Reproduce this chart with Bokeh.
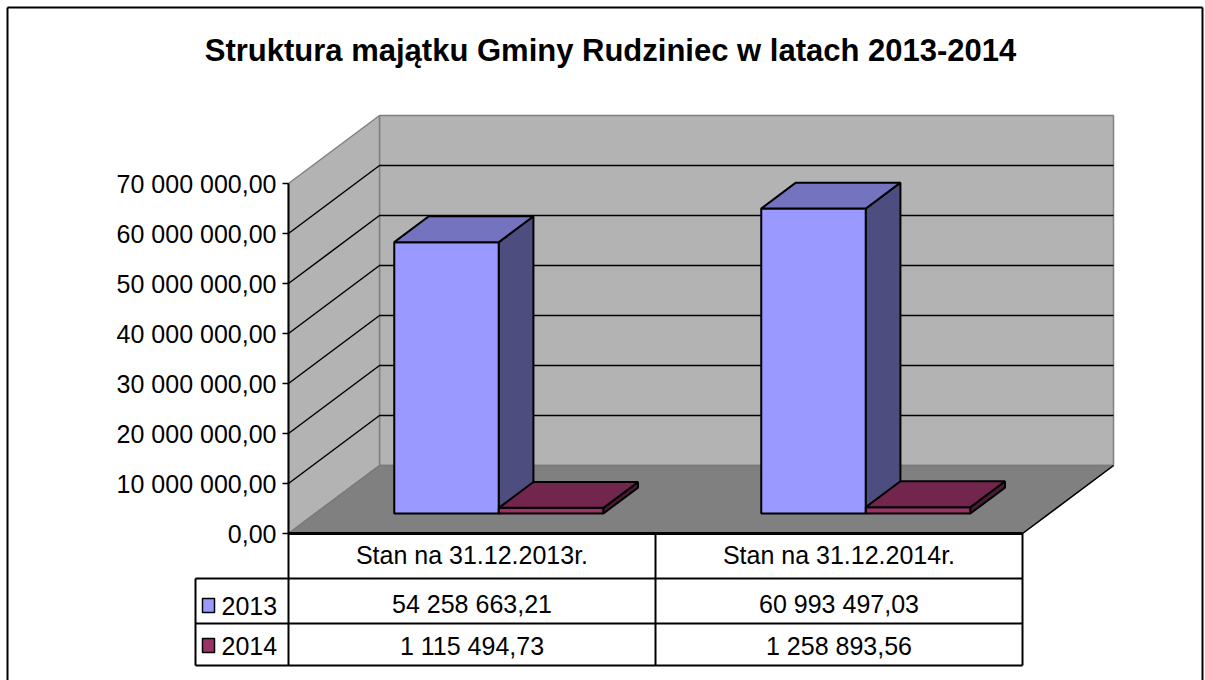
from bokeh.plotting import figure
from bokeh.models import Range1d, LinearAxis, FixedTicker
from bokeh.embed import file_html
from bokeh.resources import INLINE
from bokeh.core.properties import value

# ---------------- data ----------------
title_text = "Struktura majątku Gminy Rudziniec w latach 2013-2014"
categories = ["Stan na 31.12.2013r.", "Stan na 31.12.2014r."]
series_names = ["2013", "2014"]
values_2013 = [54258663.21, 60993497.03]
values_2014 = [1115494.73, 1258893.56]
y_ticks = [0, 10000000, 20000000, 30000000, 40000000, 50000000, 60000000, 70000000]

series_values = [values_2013, values_2014]
series_colors = [("#9999ff", "#7373bf", "#4d4d80"), ("#993366", "#73264d", "#4d1a33")]


def fmt(v):
    s = f"{v:,.2f}"
    return s.replace(",", " ").replace(".", ",")


# ---------------- layout (pixels) ----------------
W, H = 1205, 680
X0_PX, CAT_PX, Y0_PX = 288, 367, 533
VAL_PER_PX = 70e6 / 350.0
DEPTH_DX_PX, DEPTH_DY_PX = 91, 68


def fx(px):
    return (px - X0_PX) / CAT_PX


def fy(py):
    return (Y0_PX - py) * VAL_PER_PX


ddx = DEPTH_DX_PX / CAT_PX
ddy = DEPTH_DY_PX * VAL_PER_PX
N = len(categories)
YMAX = y_ticks[-1]
Z0, Z1 = 0.295, 0.675
BAR_W, GROUP_START = 0.285, 0.215
FONT = value("Liberation Sans")
FS = "25px"

p = figure(width=W, height=H, x_range=Range1d(fx(0), fx(W)), y_range=Range1d(fy(H), fy(0)),
           output_backend="svg", toolbar_location=None, x_axis_type=None, y_axis_type=None,
           min_border=0)
p.outline_line_color = None
p.background_fill_color = "white"
p.border_fill_color = "white"

# outer frame
p.multi_line(xs=[[fx(7), fx(7)], [fx(7), fx(1202)], [fx(1202), fx(1202)]],
             ys=[[fy(H + 5), fy(7)], [fy(7), fy(7)], [fy(7), fy(H + 5)]],
             line_color="black", line_width=2)

# title
p.text(x=[fx(610)], y=[fy(50)], text=[title_text], text_font=FONT, text_font_size="31px",
       text_font_style="bold", text_align="center", text_baseline="middle", text_color="black")

# walls and floor
back_x = [ddx, N + ddx, N + ddx, ddx]
back_y = [ddy, ddy, YMAX + ddy, YMAX + ddy]
side_x = [0, ddx, ddx, 0]
side_y = [0, ddy, YMAX + ddy, YMAX]
floor_x = [0, N, N + ddx, ddx]
floor_y = [0, 0, ddy, ddy]
p.patches(xs=[back_x, side_x], ys=[back_y, side_y], fill_color="#b3b3b3", line_color="#808080",
          line_width=1.5)
p.patch(x=floor_x, y=floor_y, fill_color="#808080", line_color="#7a7a7a", line_width=1.5)
p.line(x=[N, N + ddx], y=[0, ddy], line_color="black", line_width=1.5)

# gridlines on side and back walls
gx, gy = [], []
for t in y_ticks[1:-1]:
    gx.append([0, ddx, N + ddx])
    gy.append([t, t + ddy, t + ddy])
p.multi_line(xs=gx, ys=gy, line_color="black", line_width=1.5)

# bars
bxs, bys, bcol = [], [], []
for i in range(N):
    for s, vals in enumerate(series_values):
        v = vals[i]
        x0 = i + GROUP_START + s * BAR_W
        x1 = x0 + BAR_W
        ax, ay = Z0 * ddx, Z0 * ddy
        bx, by = Z1 * ddx, Z1 * ddy
        front_c, top_c, side_c = series_colors[s]
        bxs.append([x0 + ax, x1 + ax, x1 + ax, x0 + ax]); bys.append([ay, ay, v + ay, v + ay]); bcol.append(front_c)
        bxs.append([x1 + ax, x1 + bx, x1 + bx, x1 + ax]); bys.append([ay, by, v + by, v + ay]); bcol.append(side_c)
        bxs.append([x0 + ax, x1 + ax, x1 + bx, x0 + bx]); bys.append([v + ay, v + ay, v + by, v + by]); bcol.append(top_c)
p.patches(xs=bxs, ys=bys, fill_color=bcol, line_color="black", line_width=2)

# y axis
yaxis = LinearAxis(fixed_location=0, bounds=(0, YMAX), ticker=FixedTicker(ticks=y_ticks))
yaxis.major_label_overrides = {t: fmt(t) for t in y_ticks}
yaxis.major_label_text_font = "Liberation Sans"
yaxis.major_label_text_font_size = FS
yaxis.major_label_text_color = "black"
yaxis.axis_line_color = "black"
yaxis.axis_line_width = 2
yaxis.major_tick_line_color = "black"
yaxis.major_tick_line_width = 1.5
yaxis.major_tick_out = 6
yaxis.major_tick_in = 0
yaxis.minor_tick_line_color = None
yaxis.major_label_standoff = 6
p.add_layout(yaxis, "left")

# data table
ROW_TOP, ROW1, ROW2, ROW3 = 533, 578, 623, 665
LEG_L = 195
hx = [[0, N], [fx(LEG_L), N], [fx(LEG_L), N], [fx(LEG_L), N]]
hy = [[fy(ROW_TOP), fy(ROW_TOP)], [fy(ROW1)] * 2, [fy(ROW2)] * 2, [fy(ROW3)] * 2]
p.multi_line(xs=hx, ys=hy, line_color="black", line_width=[3, 2, 2, 2])
vx = [[fx(LEG_L)] * 2] + [[float(i)] * 2 for i in range(N + 1)]
vy = [[fy(ROW1), fy(ROW3)]] + [[fy(ROW_TOP), fy(ROW3)] for _ in range(N + 1)]
p.multi_line(xs=vx, ys=vy, line_color="black", line_width=2)

centers = [i + 0.5 for i in range(N)]
p.text(x=centers, y=[fy(554)] * N, text=categories, text_font=FONT, text_font_size=FS,
       text_align="center", text_baseline="middle", text_color="black")
row_mid = [603, 645]
for s, vals in enumerate(series_values):
    p.text(x=centers, y=[fy(row_mid[s])] * N, text=[fmt(v) for v in vals], text_font=FONT,
           text_font_size=FS, text_align="center", text_baseline="middle", text_color="black")

# legend keys inside table
leg_mid = [605, 645]
p.quad(left=[fx(202)] * 2, right=[fx(214)] * 2,
       bottom=[fy(m + 7) for m in leg_mid], top=[fy(m - 7) for m in leg_mid],
       fill_color=[c[0] for c in series_colors], line_color="black", line_width=1.5)
p.text(x=[fx(221)] * 2, y=[fy(m) for m in leg_mid], text=series_names, text_font=FONT,
       text_font_size=FS, text_align="left", text_baseline="middle", text_color="black")

open("out.html", "w").write(file_html(p, INLINE))
